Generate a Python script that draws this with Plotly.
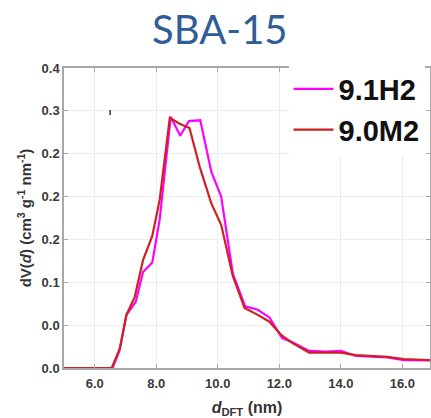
import plotly.graph_objects as go

title_text = "SBA-15"

# 9.1H2 (magenta)
x_h2 = [5.0, 6.0, 6.58, 6.80, 7.03, 7.33, 7.57, 7.87, 8.11, 8.47, 8.78, 9.06, 9.43, 9.79, 10.11,
        10.49, 10.89, 11.30, 11.68, 12.09, 12.43, 12.97, 13.51, 14.00, 14.49, 15.51, 16.05, 16.90]
y_h2 = [0.0, 0.0, 0.0, 0.020, 0.062, 0.077, 0.112, 0.123, 0.173, 0.293, 0.271, 0.288, 0.289, 0.229, 0.200,
        0.110, 0.072, 0.068, 0.059, 0.035, 0.030, 0.020, 0.019, 0.020, 0.014, 0.0125, 0.0093, 0.0088]

# 9.0M2 (red)
x_m2 = [5.0, 6.0, 6.55, 6.82, 7.03, 7.30, 7.57, 7.87, 8.11, 8.44, 8.76, 9.08, 9.41, 9.79, 10.11,
        10.49, 10.87, 11.30, 11.68, 12.06, 12.43, 12.97, 13.51, 14.00, 14.49, 15.51, 16.05, 16.90]
y_m2 = [0.0, 0.0, 0.0, 0.023, 0.062, 0.083, 0.126, 0.154, 0.196, 0.292, 0.285, 0.280, 0.235, 0.192, 0.167,
        0.107, 0.070, 0.062, 0.054, 0.0385, 0.029, 0.018, 0.018, 0.018, 0.015, 0.013, 0.0105, 0.0093]

x_tickvals = [6, 8, 10, 12, 14, 16]
x_ticktext = ["6.0", "8.0", "10.0", "12.0", "14.0", "16.0"]
y_tickvals = [0, 0.05, 0.10, 0.15, 0.20, 0.25, 0.30, 0.35]
y_ticktext = ["0.0", "0.0", "0.1", "0.2", "0.2", "0.2", "0.3", "0.4"]

fig = go.Figure()
fig.add_trace(go.Scatter(x=x_h2, y=y_h2, mode="lines", name="9.1H2",
                         line=dict(color="#FF00FF", width=2.2)))
fig.add_trace(go.Scatter(x=x_m2, y=y_m2, mode="lines", name="9.0M2",
                         line=dict(color="#CC2222", width=2.2)))

axis_common = dict(
    showline=True, linecolor="#A8A8A8", linewidth=1.5, mirror="ticks",
    ticks="inside", ticklen=4, tickcolor="#A8A8A8", tickwidth=1,
    showgrid=True, gridcolor="#EDEDED", gridwidth=1, zeroline=False,
    automargin=False,
    tickfont=dict(family="Liberation Sans", size=13, color="#3A3A3A", weight="bold"),
)

fig.update_layout(
    width=431, height=418,
    margin=dict(l=64, r=1, t=68, b=50),
    paper_bgcolor="white", plot_bgcolor="white",
    title=dict(text=title_text, x=0.51, xanchor="center", y=0.928, yanchor="middle",
               font=dict(family="Lato", size=40, color="#2F5D95")),
    xaxis=dict(range=[5.0, 16.9], tickvals=x_tickvals, ticktext=x_ticktext, ticklabelstandoff=3,
               title=dict(text="<i>d</i><sub>DFT</sub> (nm)", standoff=12,
                          font=dict(family="Liberation Sans", size=16, color="#333333", weight="bold")),
               **axis_common),
    yaxis=dict(range=[0, 0.35], tickvals=y_tickvals, ticktext=y_ticktext,
               title=dict(text="dV(<i>d</i>) (cm<sup>3</sup> g<sup>-1</sup> nm<sup>-1</sup>)", standoff=6,
                          font=dict(family="Liberation Sans", size=15, color="#333333", weight="bold")),
               **axis_common),
    legend=dict(x=0.985, y=1.015, xanchor="right", yanchor="top",
                bgcolor="white", borderwidth=0,
                font=dict(family="Liberation Sans", size=29, color="#111111", weight="bold"),
                itemwidth=40, tracegroupgap=0),
    showlegend=True,
)

# small artifact mark in the original image
fig.add_shape(type="rect", xref="paper", yref="paper", x0=0.04, x1=0.12, y0=0.845, y1=0.87,
              fillcolor="white", line=dict(width=0), layer="below")
fig.add_shape(type="line", xref="paper", yref="paper", x0=0.126, x1=0.126, y0=0.843, y1=0.86,
              line=dict(color="black", width=1.2))

fig.write_html("out.html", config={"displayModeBar": False},
               post_script="document.body.style.margin='0';document.body.style.padding='0';")
